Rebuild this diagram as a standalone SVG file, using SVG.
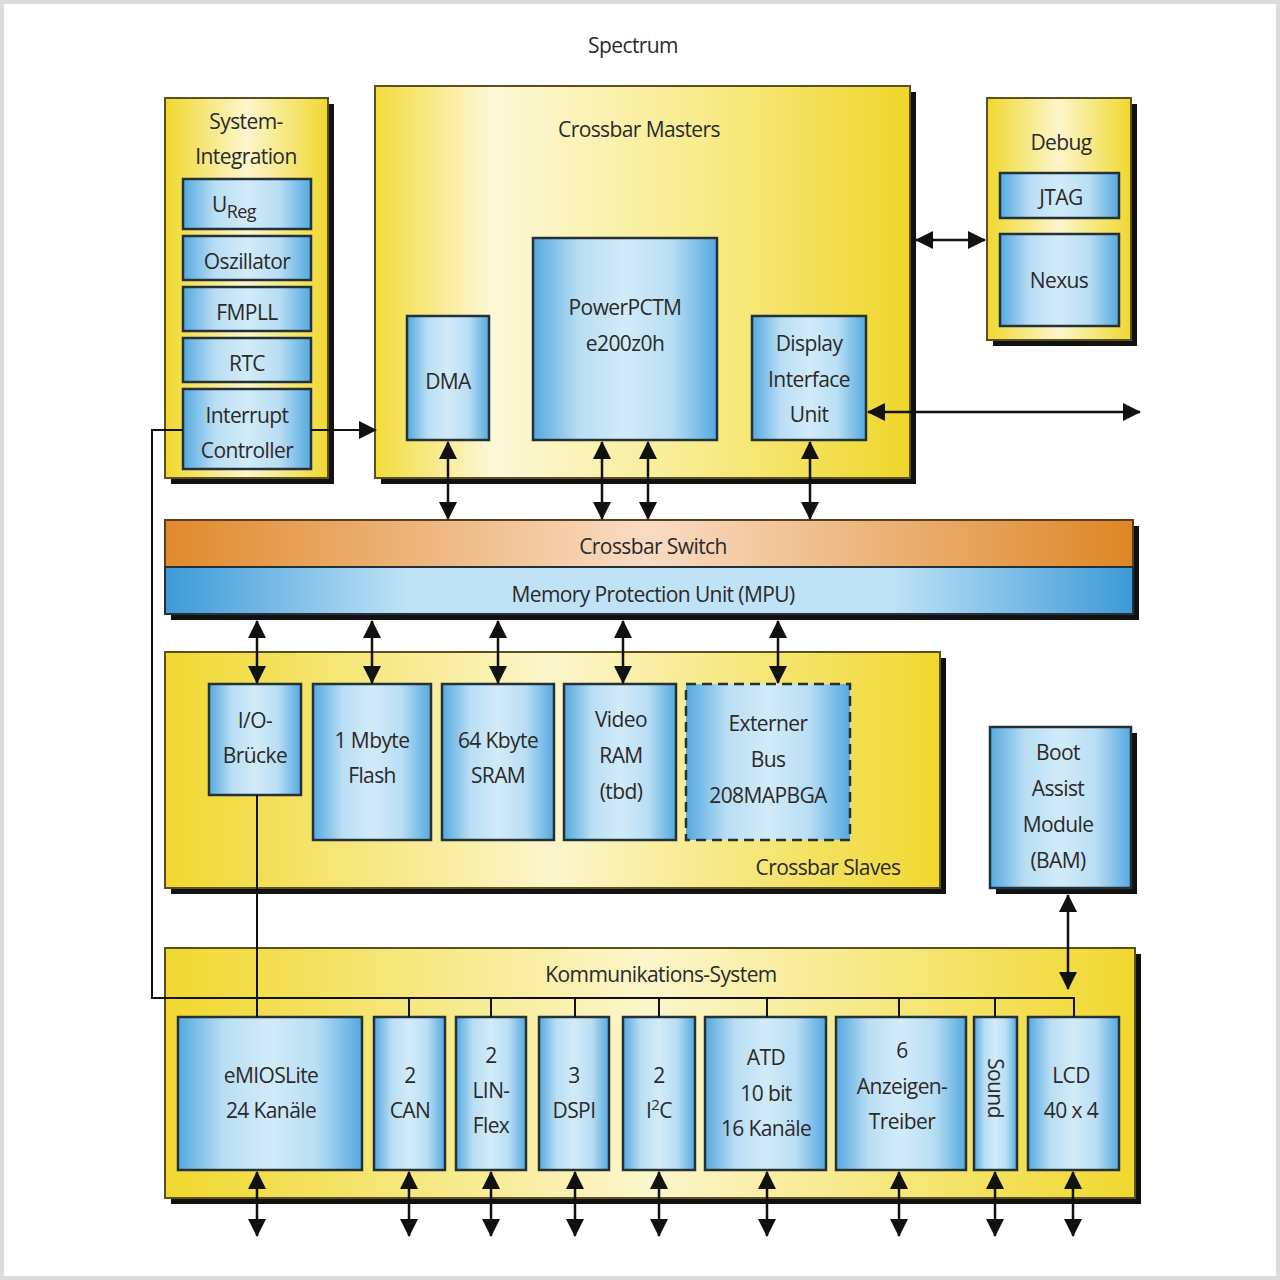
<svg xmlns="http://www.w3.org/2000/svg" width="1280" height="1280" viewBox="0 0 1280 1280">
<defs>
<linearGradient id="gy" x1="0" y1="0" x2="1" y2="0">
<stop offset="0" stop-color="#f0d82e"/><stop offset="0.5" stop-color="#fcf6cc"/><stop offset="1" stop-color="#f0d82e"/>
</linearGradient>
<linearGradient id="gym" x1="0" y1="0" x2="1" y2="0">
<stop offset="0" stop-color="#f2dc3c"/><stop offset="0.22" stop-color="#fdf8d8"/><stop offset="0.6" stop-color="#f8ec8e"/><stop offset="1" stop-color="#efd62a"/>
</linearGradient>
<linearGradient id="gb" x1="0" y1="0" x2="1" y2="0">
<stop offset="0" stop-color="#55a9df"/><stop offset="0.25" stop-color="#b9def4"/><stop offset="0.5" stop-color="#d2ebf8"/><stop offset="0.75" stop-color="#b9def4"/><stop offset="1" stop-color="#55a9df"/>
</linearGradient>
<linearGradient id="gmpu" x1="0" y1="0" x2="1" y2="0">
<stop offset="0" stop-color="#3c9ad8"/><stop offset="0.25" stop-color="#bfe2f6"/><stop offset="0.75" stop-color="#bfe2f6"/><stop offset="1" stop-color="#3c9ad8"/>
</linearGradient>
<linearGradient id="go" x1="0" y1="0" x2="1" y2="0">
<stop offset="0" stop-color="#e08a2c"/><stop offset="0.5" stop-color="#f9dcc4"/><stop offset="1" stop-color="#de8626"/>
</linearGradient>
<marker id="ah" viewBox="0 0 18 18" refX="17" refY="9" markerWidth="18" markerHeight="18" markerUnits="userSpaceOnUse" orient="auto-start-reverse">
<path d="M0,0 L18,9 L0,18 Z" fill="#111"/>
</marker>
<style>
.sh{fill:#111}
.y{fill:url(#gy);stroke:#5a5020;stroke-width:2}
.ym{fill:url(#gym);stroke:#5a5020;stroke-width:2}
.b{fill:url(#gb);stroke:#243238;stroke-width:2.5}
.t{font-family:"Open Sans","Liberation Sans",sans-serif;font-size:21px;fill:#2a2a2a;text-anchor:middle;letter-spacing:-0.6px}
.c{stroke:#111;stroke-width:2;fill:none}
.a{stroke:#111;stroke-width:2.5;fill:none;marker-start:url(#ah);marker-end:url(#ah)}
</style>
</defs>
<rect x="0" y="0" width="1280" height="1280" fill="#fff"/>
<rect x="2" y="2" width="1276" height="1276" fill="none" stroke="#dcdcdc" stroke-width="4"/>
<text class="t" x="633" y="53">Spectrum</text>

<g id="sysint">
<rect class="sh" x="171" y="104" width="163" height="380"/>
<rect class="y" x="165" y="98" width="163" height="380"/>
<text class="t" x="246" y="129">System-</text>
<text class="t" x="246" y="164">Integration</text>
</g>
<g id="ureg"><rect class="b" x="183" y="179" width="128" height="50"/><text class="t" x="234" y="212">U<tspan font-size="18" dy="6">Reg</tspan></text></g>
<g id="osz"><rect class="b" x="183" y="236" width="128" height="44"/><text class="t" x="247" y="269">Oszillator</text></g>
<g id="fmpll"><rect class="b" x="183" y="287" width="128" height="44"/><text class="t" x="247" y="320">FMPLL</text></g>
<g id="rtc"><rect class="b" x="183" y="338" width="128" height="44"/><text class="t" x="247" y="371">RTC</text></g>
<g id="intc"><rect class="b" x="183" y="389" width="128" height="80"/><text class="t" x="247" y="423">Interrupt</text><text class="t" x="247" y="458">Controller</text></g>

<g id="masters">
<rect class="sh" x="381" y="92" width="535" height="392"/>
<rect class="ym" x="375" y="86" width="535" height="392"/>
<text class="t" x="639" y="137">Crossbar Masters</text>
</g>
<g id="dma"><rect class="b" x="407" y="316" width="82" height="124"/><text class="t" x="448" y="389">DMA</text></g>
<g id="ppc"><rect class="b" x="533" y="238" width="184" height="202"/><text class="t" x="625" y="315">PowerPCTM</text><text class="t" x="625" y="351">e200z0h</text></g>
<g id="diu"><rect class="b" x="752" y="316" width="114" height="124"/><text class="t" x="809" y="351">Display</text><text class="t" x="809" y="387">Interface</text><text class="t" x="809" y="422">Unit</text></g>

<g id="debug">
<rect class="sh" x="993" y="104" width="144" height="242"/>
<rect class="y" x="987" y="98" width="144" height="242"/>
<text class="t" x="1061" y="150">Debug</text>
</g>
<g id="jtag"><rect class="b" x="1000" y="173" width="119" height="45"/><text class="t" x="1061" y="205">JTAG</text></g>
<g id="nexus"><rect class="b" x="1000" y="234" width="119" height="92"/><text class="t" x="1059" y="288">Nexus</text></g>

<g id="xbar">
<rect class="sh" x="171" y="526" width="968" height="94"/>
<rect x="165" y="520" width="968" height="47" fill="url(#go)" stroke="#5a4020" stroke-width="2"/>
<text class="t" x="653" y="554">Crossbar Switch</text>
</g>
<g id="mpu">
<rect x="165" y="567" width="968" height="47" fill="url(#gmpu)" stroke="#243238" stroke-width="2"/>
<text class="t" x="653" y="602">Memory Protection Unit (MPU)</text>
</g>

<g id="slaves">
<rect class="sh" x="171" y="658" width="775" height="236"/>
<rect class="y" x="165" y="652" width="775" height="236"/>
<text class="t" x="828" y="875">Crossbar Slaves</text>
</g>
<g id="iob"><rect class="b" x="209" y="684" width="92" height="111"/><text class="t" x="255" y="728">I/O-</text><text class="t" x="255" y="763">Brücke</text></g>
<g id="flash"><rect class="b" x="313" y="684" width="118" height="156"/><text class="t" x="372" y="748">1 Mbyte</text><text class="t" x="372" y="783">Flash</text></g>
<g id="sram"><rect class="b" x="442" y="684" width="112" height="156"/><text class="t" x="498" y="748">64 Kbyte</text><text class="t" x="498" y="783">SRAM</text></g>
<g id="vram"><rect class="b" x="564" y="684" width="112" height="156"/><text class="t" x="621" y="727">Video</text><text class="t" x="621" y="763">RAM</text><text class="t" x="621" y="799">(tbd)</text></g>
<g id="extbus"><rect class="b" x="686" y="684" width="164" height="156" stroke-dasharray="10,6" stroke-width="3"/><text class="t" x="768" y="731">Externer</text><text class="t" x="768" y="767">Bus</text><text class="t" x="768" y="803">208MAPBGA</text></g>

<g id="bam">
<rect class="sh" x="996" y="733" width="141" height="161"/>
<rect class="b" x="990" y="727" width="141" height="161"/>
<text class="t" x="1058" y="760">Boot</text><text class="t" x="1058" y="796">Assist</text><text class="t" x="1058" y="832">Module</text><text class="t" x="1058" y="868">(BAM)</text>
</g>

<g id="komm">
<rect class="sh" x="171" y="954" width="970" height="250"/>
<rect class="y" x="165" y="948" width="970" height="250"/>
<text class="t" x="661" y="982">Kommunikations-System</text>
</g>
<g id="emios"><rect class="b" x="178" y="1017" width="184" height="153"/><text class="t" x="271" y="1083">eMIOSLite</text><text class="t" x="271" y="1118">24 Kanäle</text></g>
<g id="can"><rect class="b" x="374" y="1017" width="71" height="153"/><text class="t" x="410" y="1083">2</text><text class="t" x="410" y="1118">CAN</text></g>
<g id="lin"><rect class="b" x="456" y="1017" width="70" height="153"/><text class="t" x="491" y="1063">2</text><text class="t" x="491" y="1098">LIN-</text><text class="t" x="491" y="1133">Flex</text></g>
<g id="dspi"><rect class="b" x="539" y="1017" width="70" height="153"/><text class="t" x="574" y="1083">3</text><text class="t" x="574" y="1118">DSPI</text></g>
<g id="i2c"><rect class="b" x="623" y="1017" width="72" height="153"/><text class="t" x="659" y="1083">2</text><text class="t" x="659" y="1118">I<tspan font-size="15" dy="-8">2</tspan><tspan dy="8">C</tspan></text></g>
<g id="atd"><rect class="b" x="705" y="1017" width="121" height="153"/><text class="t" x="766" y="1065">ATD</text><text class="t" x="766" y="1101">10 bit</text><text class="t" x="766" y="1136">16 Kanäle</text></g>
<g id="anz"><rect class="b" x="836" y="1017" width="130" height="153"/><text class="t" x="902" y="1058">6</text><text class="t" x="902" y="1094">Anzeigen-</text><text class="t" x="902" y="1129">Treiber</text></g>
<g id="sound"><rect class="b" x="974" y="1017" width="43" height="153"/><text class="t" transform="translate(988,1088) rotate(90)">Sound</text></g>
<g id="lcd"><rect class="b" x="1028" y="1017" width="91" height="153"/><text class="t" x="1071" y="1083">LCD</text><text class="t" x="1071" y="1118">40 x 4</text></g>

<g id="connectors">
<path class="c" d="M183,430 L152,430 L152,998 L1074,998 L1074,1017"/>
<path class="c" d="M311,430 L376,430" marker-end="url(#ah)"/>
<path class="c" d="M257,795 L257,1017"/>
<path class="c" d="M409,998 V1017 M491,998 V1017 M575,998 V1017 M659,998 V1017 M767,998 V1017 M899,998 V1017 M995,998 V1017"/>
<path class="a" d="M916,240 L985,240"/>
<path class="a" d="M868,412 L1140,412"/>
<path class="a" d="M448,442 L448,519"/>
<path class="a" d="M602,442 L602,519"/>
<path class="a" d="M648,442 L648,519"/>
<path class="a" d="M810,442 L810,519"/>
<path class="a" d="M257,621 L257,683"/>
<path class="a" d="M372,621 L372,683"/>
<path class="a" d="M498,621 L498,683"/>
<path class="a" d="M623,621 L623,683"/>
<path class="a" d="M778,621 L778,683"/>
<path class="a" d="M1068,895 L1068,989"/>
<path class="a" d="M257,1172 L257,1236"/>
<path class="a" d="M409,1172 L409,1236"/>
<path class="a" d="M491,1172 L491,1236"/>
<path class="a" d="M575,1172 L575,1236"/>
<path class="a" d="M659,1172 L659,1236"/>
<path class="a" d="M767,1172 L767,1236"/>
<path class="a" d="M899,1172 L899,1236"/>
<path class="a" d="M995,1172 L995,1236"/>
<path class="a" d="M1073,1172 L1073,1236"/>
</g>
</svg>
